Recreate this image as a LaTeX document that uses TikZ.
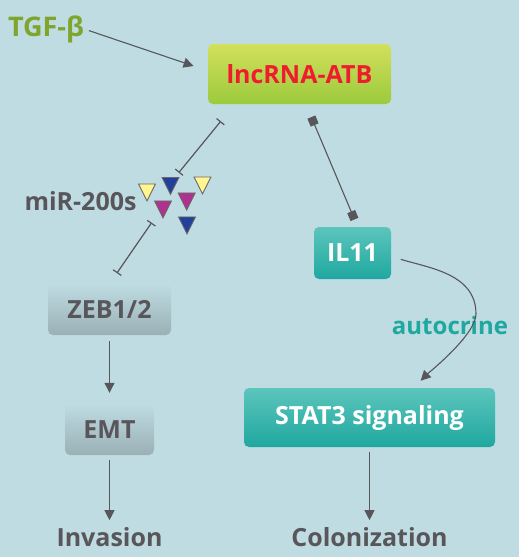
\documentclass[tikz,border=0pt]{standalone}
\usepackage{fontspec}
\setsansfont{Open Sans}
\usetikzlibrary{arrows.meta, shapes.geometric}
\definecolor{cbg}{HTML}{BEDCE2}
\definecolor{cgrey}{HTML}{58565A}
\definecolor{cteal}{HTML}{1FA8A0}
\definecolor{ctealtop}{HTML}{5CC5BC}
\definecolor{cgreen}{HTML}{7FA52C}
\definecolor{cred}{HTML}{EE1C2E}
\definecolor{cyellow}{HTML}{FFF68F}
\definecolor{cnavy}{HTML}{21409A}
\definecolor{cmag}{HTML}{B0328F}
\definecolor{cbox1}{HTML}{D2E05C}
\definecolor{cbox2}{HTML}{9CCA3C}
\definecolor{cslate}{HTML}{9AB0B5}
\tikzset{
  every picture/.style={font=\sffamily\bfseries, x=1pt, y=-1pt},
  box/.style={rounded corners=5pt, align=center, inner sep=0pt, font=\sffamily\bfseries\fontsize{25}{29}\selectfont},
  limebox/.style={box, top color=cbox1, bottom color=cbox2, text=cred},
  tealbox/.style={box, top color=ctealtop, bottom color=cteal, text=white},
  greybox/.style={box, top color=cbg, bottom color=cslate, text=cgrey},
  label/.style={font=\sffamily\bfseries\fontsize{25}{29}\selectfont, text=cgrey, inner sep=0pt},
  tri/.style={isosceles triangle, isosceles triangle apex angle=52, isosceles triangle stretches,
    shape border rotate=-90, minimum width=17pt, minimum height=17pt, inner sep=0pt,
    anchor=apex, draw=cgrey!90, line width=0.9pt, fill=#1},
  arrow/.style={-{Triangle[length=10pt, width=10pt]}, draw=cgrey, line width=1.1pt},
  inhibit/.style={{Bar[width=10pt]}-{Bar[width=10pt]}, draw=cgrey, line width=1.2pt},
  bind/.style={{Square[length=8.5pt, width=8.5pt]}-{Square[length=8.5pt, width=8.5pt]}, draw=cgrey, line width=1.1pt},
}
\begin{document}
\begin{tikzpicture}
  \fill[cbg] (0,0) rectangle (519,557);
  % boxes
  \node (lnc) [limebox, minimum width=183pt, minimum height=60pt] at (299.5,74) {lncRNA-ATB};
  \node (il11) [tealbox, minimum width=77pt, minimum height=52pt] at (352.5,253) {IL11};
  \node (stat) [tealbox, minimum width=251pt, minimum height=59pt] at (369.5,417.5) {STAT3 signaling};
  \node (zeb) [greybox, minimum width=123pt, minimum height=51pt] at (109.5,309.5) {ZEB1/2};
  \node (emt) [greybox, minimum width=89pt, minimum height=51pt] at (109.5,429.5) {EMT};
  % labels
  \node (tgf) [label, text=cgreen, font=\sffamily\bfseries\fontsize{27}{31}\selectfont] at (46,29) {TGF-β};
  \node (mir) [label] at (80.5,201) {miR-200s};
  \node (auto) [label, text=cteal, font=\sffamily\bfseries\fontsize{24}{28}\selectfont] at (450,325) {autocrine};
  \node (inv) [label] at (109.5,537) {Invasion};
  \node (col) [label] at (369.5,537) {Colonization};
  % miRNA triangles
  \node (y1) [tri=cyellow] at (147,202) {};
  \node (n1) [tri=cnavy] at (170.5,195.5) {};
  \node (y2) [tri=cyellow] at (202.5,195) {};
  \node (m2) [tri=cmag] at (186.7,211) {};
  \node (m1) [tri=cmag] at (163,219) {};
  \node (n2) [tri=cnavy] at (187,235) {};
  % connectors
  \draw[arrow, shorten <=5pt, shorten >=15pt] (tgf.east) -- (lnc.178);
  \draw[inhibit, shorten <=22pt, shorten >=13pt] (lnc.205) -- (n1.center);
  \draw[inhibit, shorten <=13pt, shorten >=20pt] (zeb.north) -- (m1.center);
  \draw[bind, shorten <=14pt, shorten >=8pt] (lnc.-78) -- (il11.79);
  \coordinate (bend) at (476,314);
  \draw[arrow, shorten <=10pt, shorten >=10pt] (il11.-5) to[out=-17, in=90] (bend) to[out=-90, in=45, looseness=0.55] (stat.34);
  \draw[arrow, shorten <=6pt, shorten >=11pt] (zeb) -- (emt);
  \draw[arrow, shorten <=5pt, shorten >=7pt] (emt) -- (inv);
  \draw[arrow, shorten <=5pt, shorten >=7pt] (stat) -- (col);
\end{tikzpicture}
\end{document}
